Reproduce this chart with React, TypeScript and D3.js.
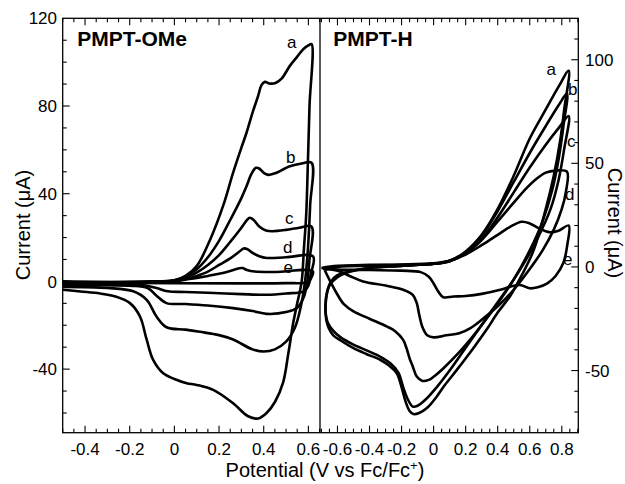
import React from 'react';
import * as d3 from 'd3';

type P = [number, number];

// ---------- tick labels ----------
const leftXMajor = [-0.4, -0.2, 0, 0.2, 0.4, 0.6];
const rightXMajor = [-0.6, -0.4, -0.2, 0, 0.2, 0.4, 0.6, 0.8];
const leftYMajor = [-40, 0, 40, 80, 120];
const rightYMajor = [-50, 0, 50, 100];

const curveLetters = ['a', 'b', 'c', 'd', 'e'];

// ---------- PMPT-OMe (left), [V, uA] ----------
const omeA: P[] = [
  [-0.5, -1.5], [-0.3, -0.8], [-0.1, -0.3], [0, 0.5], [0.05, 2.5], [0.1, 7], [0.16, 19], [0.22, 35],
  [0.263, 49.6], [0.3, 61], [0.323, 67.8], [0.35, 77], [0.375, 84.6], [0.39, 89.5], [0.405, 91],
  [0.425, 90.3], [0.45, 90.4], [0.48, 92.5], [0.517, 98.3], [0.55, 102.5], [0.577, 105.9], [0.6, 107.6],
  [0.614, 108.2], [0.605, 80], [0.598, 55], [0.59, 30], [0.58, 15], [0.57, 0], [0.55, -10], [0.532, -19],
  [0.51, -33], [0.487, -46], [0.45, -55], [0.413, -60], [0.375, -62.5], [0.33, -61.5], [0.263, -55.6],
  [0.174, -49.5], [0.1, -47.2], [0.055, -46.4], [0, -44.5], [-0.05, -41.9], [-0.095, -35.8], [-0.124, -26.6],
  [-0.154, -16], [-0.199, -9.9], [-0.26, -7], [-0.333, -5.5], [-0.42, -4.6], [-0.5, -3.8],
];
const omeB: P[] = [
  [-0.5, -1], [-0.2, -0.5], [0, 0.5], [0.05, 2], [0.1, 5.5], [0.15, 11], [0.2, 18.5], [0.25, 28], [0.3, 38],
  [0.323, 43.4], [0.345, 49], [0.365, 51.8], [0.38, 51.5], [0.4, 49.5], [0.42, 48.6], [0.45, 49.3],
  [0.517, 52.5], [0.57, 53.8], [0.614, 54.1], [0.608, 35], [0.598, 15], [0.585, 0], [0.565, -12],
  [0.54, -21], [0.5, -27.5], [0.45, -31], [0.4, -32], [0.35, -31], [0.263, -26.5], [0.2, -24.5],
  [0.114, -23], [0.05, -22], [-0.035, -20.9], [-0.08, -16], [-0.124, -8.4], [-0.184, -4.5], [-0.3, -3],
  [-0.5, -2.5],
];
const omeC: P[] = [
  [-0.5, -0.8], [-0.1, 0], [0, 0.3], [0.05, 1.5], [0.1, 4], [0.15, 7.5], [0.2, 12], [0.25, 18], [0.3, 24.5],
  [0.325, 28], [0.338, 29], [0.355, 28], [0.38, 25], [0.41, 23.2], [0.44, 22.9], [0.5, 23.5], [0.56, 24.5],
  [0.614, 25], [0.605, 10], [0.595, 0], [0.58, -7], [0.55, -12], [0.5, -14], [0.413, -14.8], [0.35, -13.5],
  [0.263, -12.2], [0.15, -11], [0.05, -10.3], [-0.035, -9.9], [-0.08, -6.5], [-0.12, -3], [-0.2, -2],
  [-0.5, -1.8],
];
const omeD: P[] = [
  [-0.5, -0.5], [0, 0.2], [0.05, 1], [0.1, 2.5], [0.15, 4.5], [0.2, 7.5], [0.25, 10.5], [0.29, 13.5],
  [0.31, 15], [0.325, 14.8], [0.35, 13], [0.38, 11.5], [0.413, 10.7], [0.5, 11], [0.621, 11.4],
  [0.61, 3], [0.6, -2], [0.58, -4.5], [0.5, -5.5], [0.413, -6.1], [0.3, -5.8], [0.15, -5.2], [0.05, -4.8],
  [-0.03, -4.5], [-0.08, -3], [-0.15, -1.5], [-0.3, -1], [-0.5, -1],
];
const omeE: P[] = [
  [-0.5, 0], [0, 0], [0.05, 0.8], [0.1, 1.6], [0.15, 2.5], [0.2, 3.5], [0.25, 4.8], [0.29, 6], [0.305, 6.1],
  [0.325, 5.2], [0.36, 4.5], [0.45, 4.3], [0.62, 4.6], [0.61, 1], [0.6, -0.3], [0.5, -0.8], [0.3, -0.9],
  [0, -0.8], [-0.5, -0.5],
];

// ---------- PMPT-H (right), [V, uA] ----------
const hA: P[] = [
  [-0.67, -25.5], [-0.675, -18], [-0.665, -12], [-0.64, -7], [-0.6, -4], [-0.52, -2], [-0.4, -0.5],
  [-0.2, 0.5], [0, 1.5], [0.1, 3], [0.2, 7.5], [0.3, 15.5], [0.4, 28], [0.5, 44], [0.6, 62], [0.7, 76],
  [0.78, 87], [0.843, 94.7], [0.815, 76], [0.79, 61], [0.75, 44], [0.7, 28], [0.624, 8], [0.55, -4],
  [0.478, -14], [0.4, -22], [0.333, -30], [0.25, -39], [0.145, -49.7], [0.07, -57], [0.02, -62.5],
  [-0.04, -68], [-0.09, -70.5], [-0.126, -71], [-0.15, -69.5], [-0.175, -65], [-0.2, -58], [-0.23, -51.3],
  [-0.28, -47.5], [-0.334, -44.8], [-0.42, -42], [-0.5, -39.2], [-0.58, -35.5], [-0.626, -33],
  [-0.655, -29.5], [-0.67, -25.5],
];
const hB: P[] = [
  [-0.675, -22], [-0.67, -15], [-0.65, -9], [-0.6, -5], [-0.53, -2.5], [-0.4, -0.5], [-0.2, 0.5], [0, 1.5],
  [0.1, 3], [0.2, 7], [0.3, 15], [0.4, 27], [0.5, 41], [0.6, 55], [0.7, 68], [0.78, 78], [0.832, 83.7],
  [0.81, 68], [0.78, 52], [0.74, 37], [0.68, 22], [0.6, 8], [0.5, -6], [0.4, -17], [0.3, -28], [0.2, -39],
  [0.1, -50], [0.02, -58], [-0.05, -64], [-0.1, -67], [-0.13, -67.4], [-0.16, -64], [-0.19, -58],
  [-0.22, -51], [-0.27, -46.5], [-0.34, -43], [-0.5, -37.5], [-0.58, -34], [-0.63, -30.5], [-0.66, -27],
  [-0.675, -22],
];
const hC: P[] = [
  [-0.68, -1.5], [-0.6, 0], [-0.4, 0.5], [-0.2, 0.8], [0, 1.5], [0.1, 2.8], [0.2, 6.5], [0.3, 13.5],
  [0.4, 24], [0.5, 36], [0.6, 48], [0.7, 59], [0.78, 67], [0.843, 72.8], [0.815, 57], [0.78, 42],
  [0.73, 28], [0.65, 14], [0.55, 0], [0.45, -12], [0.35, -23], [0.25, -33], [0.15, -42], [0.06, -49],
  [0, -53], [-0.03, -54.5], [-0.07, -55], [-0.105, -52.9], [-0.13, -48], [-0.147, -44.8], [-0.17, -39],
  [-0.19, -35.2], [-0.24, -31], [-0.29, -28.8], [-0.4, -25], [-0.5, -21.5], [-0.56, -18], [-0.605, -12.7],
  [-0.645, -7], [-0.68, -1.5],
];
const hD: P[] = [
  [-0.69, -0.8], [-0.6, 0.3], [-0.4, 0.8], [-0.2, 1], [0, 1.5], [0.1, 2.8], [0.2, 6.5], [0.3, 13],
  [0.4, 22], [0.5, 31], [0.58, 38], [0.65, 43], [0.7, 45.5], [0.76, 46.5], [0.832, 46], [0.825, 36],
  [0.8, 28], [0.75, 18], [0.68, 8], [0.6, -1], [0.5, -11], [0.4, -19], [0.3, -25.5], [0.23, -29.5],
  [0.16, -32], [0.08, -33], [0, -34], [-0.04, -33], [-0.07, -29], [-0.09, -23], [-0.105, -17.5],
  [-0.13, -13.5], [-0.19, -11], [-0.3, -9], [-0.44, -7], [-0.52, -4.5], [-0.58, -2.3], [-0.64, -1.2],
  [-0.69, -0.8],
];
const hE: P[] = [
  [-0.7, -0.5], [-0.6, 0.5], [-0.4, 1], [-0.2, 1.2], [0, 1.8], [0.1, 3], [0.2, 6], [0.3, 10.5], [0.4, 15.5],
  [0.48, 19.5], [0.55, 21.8], [0.6, 21], [0.66, 18.5], [0.72, 16.8], [0.78, 17.5], [0.843, 20],
  [0.835, 11], [0.81, 2], [0.76, -4.5], [0.71, -7.9], [0.65, -9.8], [0.6, -10.3], [0.54, -8.7],
  [0.48, -9.5], [0.416, -11], [0.3, -13], [0.2, -14], [0.124, -14.3], [0.06, -14.6], [0.03, -12],
  [0, -8], [-0.03, -4.7], [-0.08, -2.5], [-0.2, -1.8], [-0.4, -1.5], [-0.6, -1.2], [-0.7, -0.5],
];

const omeCurves = [omeA, omeB, omeC, omeD, omeE];
const hCurves = [hA, hB, hC, hD, hE];

// ---------- layout ----------
const W = 625, H = 484;
const TOP = 18.3, BOT = 432.7;
const LX0 = 62.7, MID = 320, RX1 = 578.3;
const FONT = "'Liberation Sans', Arial, Helvetica, sans-serif";

const xL = d3.scaleLinear().domain([-0.5, 0.652]).range([LX0, MID]);
const yL = d3.scaleLinear().domain([-69, 120]).range([BOT, TOP]);
const xR = d3.scaleLinear().domain([-0.709, 0.903]).range([MID, RX1]);
const yR = d3.scaleLinear().domain([-80, 120]).range([BOT, TOP]);

const fmt = (v: number) => (Math.abs(v) < 1e-9 ? '0' : String(+v.toFixed(2)));

const leftXMinor = d3.range(-0.5, 0.651, 0.05).map((v) => +v.toFixed(2));
const rightXMinor = d3.range(-0.7, 0.901, 0.05).map((v) => +v.toFixed(2));
const leftYMinor = d3.range(-60, 120, 10);
const rightYMinor = d3.range(-70, 120, 10);

const isMajX = (v: number) => Math.abs(Math.round(v * 5) - v * 5) < 1e-6;

const omeLabelPos: P[] = [[287, 48], [286, 163], [285, 224], [283, 253], [283.5, 273]];
const hLabelPos: P[] = [[546.5, 75], [568, 95], [567, 146.7], [565, 200], [563, 265]];

function makeLine(x: d3.ScaleLinear<number, number>, y: d3.ScaleLinear<number, number>) {
  return d3
    .line<P>()
    .x((d) => x(d[0]))
    .y((d) => y(d[1]))
    .curve(d3.curveCatmullRom.alpha(0.5));
}

export default function App() {
  const lineL = makeLine(xL, yL);
  const lineR = makeLine(xR, yR);
  const MAJ = 7, MIN = 4;

  return (
    <svg
      width={W}
      height={H}
      style={{ position: 'absolute', left: 0, top: 0, background: '#fff' }}
      fontFamily={FONT}
    >
      <defs>
        <clipPath id="clipL">
          <rect x={LX0} y={TOP} width={MID - LX0} height={BOT - TOP} />
        </clipPath>
        <clipPath id="clipR">
          <rect x={MID} y={TOP} width={RX1 - MID} height={BOT - TOP} />
        </clipPath>
      </defs>

      {/* curves */}
      <g clipPath="url(#clipL)" fill="none" stroke="#000" strokeWidth={2.6} strokeLinejoin="round">
        {omeCurves.map((c, i) => (
          <path key={i} d={lineL(c) || ''} />
        ))}
      </g>
      <g clipPath="url(#clipR)" fill="none" stroke="#000" strokeWidth={2.6} strokeLinejoin="round">
        {hCurves.map((c, i) => (
          <path key={i} d={lineR(c) || ''} />
        ))}
      </g>

      {/* frames */}
      <rect x={LX0} y={TOP} width={RX1 - LX0} height={BOT - TOP} fill="none" stroke="#000" strokeWidth={1.3} />
      <line x1={MID} x2={MID} y1={TOP} y2={BOT} stroke="#000" strokeWidth={1.3} />

      {/* left x ticks (bottom & top) */}
      <g stroke="#000" strokeWidth={1.1}>
        {leftXMinor.map((v) => {
          const len = isMajX(v) ? MAJ : MIN;
          const x = xL(v);
          return (
            <g key={'lx' + v}>
              <line x1={x} x2={x} y1={BOT} y2={BOT - len} />
              <line x1={x} x2={x} y1={TOP} y2={TOP + len} />
            </g>
          );
        })}
        {rightXMinor.map((v) => {
          const len = isMajX(v) ? MAJ : MIN;
          const x = xR(v);
          return (
            <g key={'rx' + v}>
              <line x1={x} x2={x} y1={BOT} y2={BOT - len} />
              <line x1={x} x2={x} y1={TOP} y2={TOP + len} />
            </g>
          );
        })}
        {leftYMinor.map((v) => {
          const len = v % 40 === 0 ? MAJ : MIN;
          const y = yL(v);
          return <line key={'ly' + v} x1={LX0} x2={LX0 + len} y1={y} y2={y} />;
        })}
        {rightYMinor.map((v) => {
          const len = v % 50 === 0 ? MAJ : MIN;
          const y = yR(v);
          return <line key={'ry' + v} x1={RX1} x2={RX1 - len} y1={y} y2={y} />;
        })}
      </g>

      {/* tick labels */}
      <g fontSize={17} fill="#000">
        {leftXMajor.map((v) => (
          <text key={'lxl' + v} x={xL(v)} y={455} textAnchor="middle">
            {fmt(v)}
          </text>
        ))}
        {rightXMajor.map((v) => (
          <text key={'rxl' + v} x={xR(v)} y={455} textAnchor="middle">
            {fmt(v)}
          </text>
        ))}
        {leftYMajor.map((v) => (
          <text key={'lyl' + v} x={57} y={yL(v)} dy="0.36em" textAnchor="end">
            {fmt(v)}
          </text>
        ))}
        {rightYMajor.map((v) => (
          <text key={'ryl' + v} x={585} y={yR(v)} dy="0.36em" textAnchor="start">
            {fmt(v)}
          </text>
        ))}
      </g>

      {/* axis titles */}
      <text x={325} y={477} fontSize={20} textAnchor="middle">
        Potential (V vs Fc/Fc<tspan baselineShift="super" fontSize={13}>+</tspan>)
      </text>
      <text transform="translate(30,225) rotate(-90)" fontSize={20} textAnchor="middle">
        Current (μA)
      </text>
      <text transform="translate(608,223) rotate(90)" fontSize={20} textAnchor="middle">
        Current (μA)
      </text>

      {/* panel titles */}
      <text x={77.3} y={46} fontSize={21} fontWeight="bold">
        PMPT-OMe
      </text>
      <text x={333.3} y={46} fontSize={21} fontWeight="bold">
        PMPT-H
      </text>

      {/* curve letters */}
      <g fontSize={17}>
        {curveLetters.map((l, i) => (
          <text key={'ol' + l} x={omeLabelPos[i][0]} y={omeLabelPos[i][1]}>
            {l}
          </text>
        ))}
        {curveLetters.map((l, i) => (
          <text key={'hl' + l} x={hLabelPos[i][0]} y={hLabelPos[i][1]}>
            {l}
          </text>
        ))}
      </g>
    </svg>
  );
}
